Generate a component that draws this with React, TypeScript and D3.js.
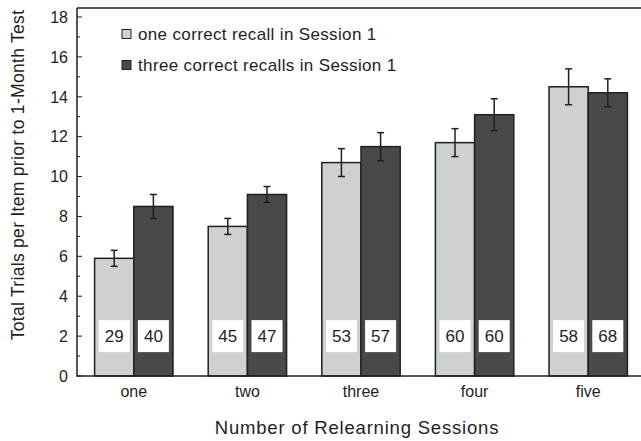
import React, { useEffect, useRef } from 'react'
import * as d3 from 'd3'

const sessions = ['one', 'two', 'three', 'four', 'five']
const oneRecall = [5.9, 7.5, 10.7, 11.7, 14.5]
const oneRecallErr = [0.4, 0.4, 0.7, 0.7, 0.9]
const threeRecall = [8.5, 9.1, 11.5, 13.1, 14.2]
const threeRecallErr = [0.6, 0.4, 0.7, 0.8, 0.7]
const oneCounts = [29, 45, 53, 60, 58]
const threeCounts = [40, 47, 57, 60, 68]
const seriesNames = ['one correct recall in Session 1', 'three correct recalls in Session 1']
const yTicks = [0, 2, 4, 6, 8, 10, 12, 14, 16, 18]

const LIGHT = '#cfd0d2'
const DARK = '#48494b'
const INK = '#231f20'
const FONT = '"Liberation Sans", Arial, sans-serif'

export default function App() {
  const ref = useRef<SVGSVGElement>(null)

  useEffect(() => {
    const svg = d3.select(ref.current)
    svg.selectAll('*').remove()

    const left = 77, right = 645, top = 8, bottom = 376

    const x = d3.scaleBand<string>()
      .domain(sessions)
      .range([left, right])
      .paddingInner(0.31)
      .paddingOuter(0.155)

    const xs = d3.scaleBand<number>()
      .domain([0, 1])
      .range([0, x.bandwidth()])

    const y = d3.scaleLinear()
      .domain([0, 18.45])
      .range([bottom, top])

    const groups = sessions.map((s, i) => ({
      s,
      bars: [
        { k: 0, v: oneRecall[i], e: oneRecallErr[i], n: oneCounts[i], fill: LIGHT },
        { k: 1, v: threeRecall[i], e: threeRecallErr[i], n: threeCounts[i], fill: DARK },
      ],
    }))

    const g = svg.selectAll('g.grp')
      .data(groups)
      .enter()
      .append('g')
      .attr('class', 'grp')
      .attr('transform', d => `translate(${x(d.s)},0)`)

    const bar = g.selectAll('g.bar')
      .data(d => d.bars)
      .enter()
      .append('g')
      .attr('class', 'bar')

    bar.append('rect')
      .attr('x', d => xs(d.k)!)
      .attr('y', d => y(d.v))
      .attr('width', xs.bandwidth())
      .attr('height', d => bottom - y(d.v))
      .attr('fill', d => d.fill)
      .attr('stroke', INK)
      .attr('stroke-width', 1.5)

    // error bars
    const cx = (d: any) => xs(d.k)! + xs.bandwidth() / 2
    bar.append('line')
      .attr('x1', cx).attr('x2', cx)
      .attr('y1', d => y(d.v + d.e)).attr('y2', d => y(d.v - d.e))
      .attr('stroke', INK).attr('stroke-width', 1.5)
    bar.append('line')
      .attr('x1', d => cx(d) - 3.5).attr('x2', d => cx(d) + 3.5)
      .attr('y1', d => y(d.v + d.e)).attr('y2', d => y(d.v + d.e))
      .attr('stroke', INK).attr('stroke-width', 1.5)
    bar.append('line')
      .attr('x1', d => cx(d) - 3.5).attr('x2', d => cx(d) + 3.5)
      .attr('y1', d => y(d.v - d.e)).attr('y2', d => y(d.v - d.e))
      .attr('stroke', INK).attr('stroke-width', 1.5)

    // count boxes
    bar.append('rect')
      .attr('x', d => cx(d) - 15.5)
      .attr('y', y(2) - 16)
      .attr('width', 31)
      .attr('height', 32)
      .attr('fill', '#fff')
    bar.append('text')
      .attr('x', cx)
      .attr('y', y(2))
      .attr('dy', '0.36em')
      .attr('text-anchor', 'middle')
      .style('font-family', FONT)
      .style('font-size', '17px')
      .attr('fill', INK)
      .text(d => d.n)

    // frame
    svg.append('path')
      .attr('d', `M${left},${top}H641M${left},${top}V${bottom}H641`)
      .attr('fill', 'none')
      .attr('stroke', INK)
      .attr('stroke-width', 1.5)

    // y ticks, major and minor, pointing inward
    svg.append('g')
      .selectAll('line')
      .data(d3.range(0, 19))
      .enter()
      .append('line')
      .attr('x1', left)
      .attr('x2', d => left + (d % 2 === 0 ? 5 : 3))
      .attr('y1', d => y(d))
      .attr('y2', d => y(d))
      .attr('stroke', INK)
      .attr('stroke-width', 1)

    svg.append('g')
      .selectAll('text')
      .data(yTicks)
      .enter()
      .append('text')
      .attr('x', 68)
      .attr('y', d => y(d))
      .attr('dy', '0.36em')
      .attr('text-anchor', 'end')
      .style('font-family', FONT)
      .style('font-size', '16px')
      .attr('fill', INK)
      .text(d => d)

    svg.append('g')
      .selectAll('text')
      .data(sessions)
      .enter()
      .append('text')
      .attr('x', d => x(d)! + x.bandwidth() / 2)
      .attr('y', 397)
      .attr('text-anchor', 'middle')
      .style('font-family', FONT)
      .style('font-size', '16px')
      .attr('fill', INK)
      .text(d => d)

    // axis titles
    svg.append('text')
      .attr('x', 357)
      .attr('y', 434)
      .attr('text-anchor', 'middle')
      .style('font-family', FONT)
      .style('font-size', '18.5px')
      .style('letter-spacing', '0.8px')
      .attr('fill', INK)
      .text('Number of Relearning Sessions')

    svg.append('text')
      .attr('transform', 'rotate(-90)')
      .attr('x', -175)
      .attr('y', 24)
      .attr('text-anchor', 'middle')
      .style('font-family', FONT)
      .style('font-size', '17.5px')
      .style('letter-spacing', '0.3px')
      .attr('fill', INK)
      .text('Total Trials per Item prior to 1-Month Test')

    // legend
    const leg = svg.append('g')
      .selectAll('g')
      .data(seriesNames)
      .enter()
      .append('g')
      .attr('transform', (d, i) => `translate(122,${34 + i * 31})`)
    leg.append('rect')
      .attr('x', 0).attr('y', -4.5)
      .attr('width', 9).attr('height', 9)
      .attr('fill', (d, i) => (i === 0 ? LIGHT : DARK))
      .attr('stroke', INK)
      .attr('stroke-width', 1)
    leg.append('text')
      .attr('x', 16)
      .attr('dy', '0.36em')
      .style('font-family', FONT)
      .style('font-size', '17px')
      .style('letter-spacing', '0.35px')
      .attr('fill', INK)
      .text(d => d)
  }, [])

  return (
    <svg ref={ref} width={641} height={441}
      style={{ position: 'absolute', left: 0, top: 0, background: '#fff' }} />
  )
}
